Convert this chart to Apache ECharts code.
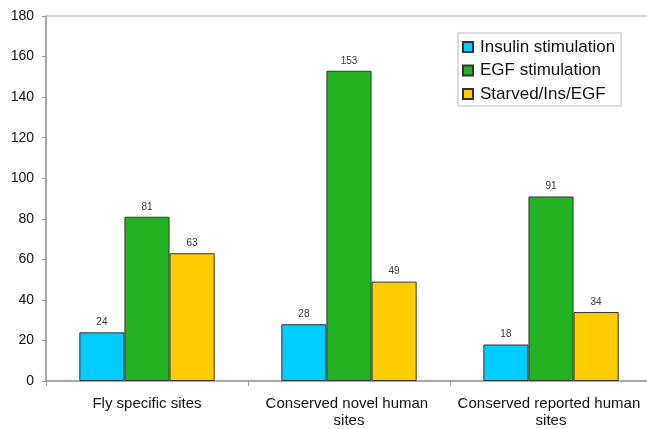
<!DOCTYPE html>
<html><head><meta charset="utf-8">
<script src="https://cdn.jsdelivr.net/npm/echarts@6/dist/echarts.min.js"></script>
<style>html,body{margin:0;padding:0;background:#fff}#c{width:647px;height:429px}</style>
</head><body><div id="c"></div>
<script>
const categories = ['Fly specific sites', 'Conserved novel human sites', 'Conserved reported human sites'];
const seriesNames = ['Insulin stimulation', 'EGF stimulation', 'Starved/Ins/EGF'];
const insulin = [24, 28, 18];
const egf = [81, 153, 91];
const starved = [63, 49, 34];
const yTicks = [0, 20, 40, 60, 80, 100, 120, 140, 160, 180];
const colors = ['#00CCFF', '#22B222', '#FFCC00'];

const chart = echarts.init(document.getElementById('c'), null, {renderer: 'canvas'});
const mk = (name, data, color) => ({
  name, type: 'bar', data,
  barGap: '0%', barCategoryGap: '33%',
  itemStyle: {color, borderColor: '#333', borderWidth: 1},
  label: {show: true, position: 'top', distance: 5, fontSize: 10, color: '#333', fontFamily: 'Liberation Sans, Arial, sans-serif'}
});
chart.setOption({
  animation: false,
  backgroundColor: '#fff',
  grid: {left: 46, top: 16, width: 606, height: 365, show: true, borderColor: '#aaa', borderWidth: 1, containLabel: false, outerBoundsMode: 'none'},
  legend: {
    orient: 'vertical', left: 458, top: 33, icon: 'rect',
    padding: [4, 6, 2, 4], itemGap: 3.5, itemWidth: 10, itemHeight: 10,
    borderColor: '#bbb', borderWidth: 1,
    textStyle: {fontSize: 17, lineHeight: 20, color: '#111', fontFamily: 'Liberation Sans, Arial, sans-serif', padding: [0, 0, 0, 2]},
    data: seriesNames
  },
  xAxis: {
    type: 'category', data: categories,
    axisLine: {lineStyle: {color: '#999', width: 1.5}},
    axisTick: {show: true, length: 5, lineStyle: {color: '#999'}},
    axisLabel: {interval: 0, hideOverlap: false, fontSize: 15, color: '#111', margin: 14, width: 190, overflow: 'break', lineHeight: 17, fontFamily: 'Liberation Sans, Arial, sans-serif'}
  },
  yAxis: {
    type: 'value', min: yTicks[0], max: yTicks[yTicks.length - 1], interval: 20,
    axisLine: {show: true, lineStyle: {color: '#999', width: 1.5}},
    axisTick: {show: true, length: 4, lineStyle: {color: '#999'}},
    splitLine: {show: false},
    axisLabel: {fontSize: 14, color: '#111', margin: 12, fontFamily: 'Liberation Sans, Arial, sans-serif'}
  },
  series: [mk(seriesNames[0], insulin, colors[0]), mk(seriesNames[1], egf, colors[1]), mk(seriesNames[2], starved, colors[2])]
});
</script></body></html>
